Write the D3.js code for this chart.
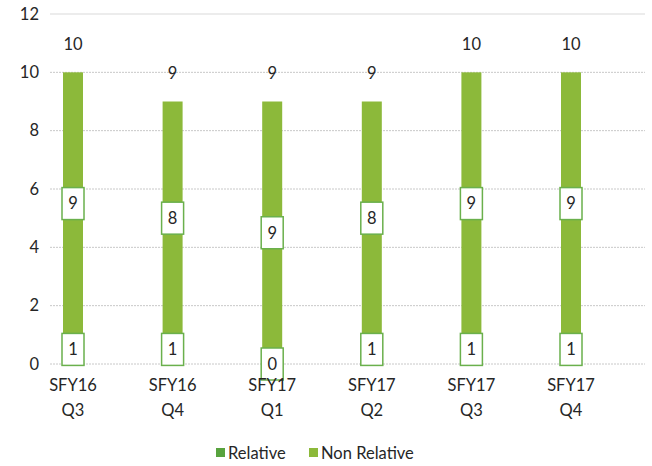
<!DOCTYPE html>
<html><head><meta charset="utf-8">
<script src="https://cdn.jsdelivr.net/npm/d3@7"></script>
<style>body{margin:0;background:#fff}svg{display:block}text{font-family:Lato,"Open Sans",sans-serif;fill:#262626}</style>
</head><body><svg id="c" width="652" height="466"></svg>
<script>
const categories = [["SFY16","Q3"],["SFY16","Q4"],["SFY17","Q1"],["SFY17","Q2"],["SFY17","Q3"],["SFY17","Q4"]];
const relative = [1,1,0,1,1,1];
const nonRelative = [9,8,9,8,9,9];
const totals = [10,9,9,9,10,10];
const yTicks = [0,2,4,6,8,10,12];
const seriesNames = ["Relative","Non Relative"];
const colors = {"Relative":"#58a33e","Non Relative":"#8cb93a"};

const svg = d3.select("#c");
const keys = categories.map(c=>c.join(" "));
const x = d3.scalePoint().domain(keys).range([73,571]);
const y = d3.scaleLinear().domain([0,12]).range([364,14]);
const bw = 20;

yTicks.forEach(t=>{
  svg.append("line").attr("x1",50).attr("x2",645).attr("y1",y(t)).attr("y2",y(t))
    .attr("stroke", t===12?"#d9d9d9":"#c8c8c8").attr("stroke-width",1)
    .attr("stroke-dasharray", t===12?null:"2,1");
});
const yAxis = d3.axisLeft(y).tickValues(yTicks).tickSize(0).tickPadding(0);
const ga = svg.append("g").attr("transform","translate(39,0)").call(yAxis);
ga.select(".domain").remove();
ga.selectAll("text").attr("font-size",16.5).attr("fill","#262626").style("font-family","Lato,'Open Sans',sans-serif");

const data = keys.map((k,i)=>({k, Relative:relative[i], "Non Relative":nonRelative[i]}));
const stack = d3.stack().keys(seriesNames)(data);

stack.forEach(s=>{
  svg.append("g").selectAll("rect").data(s).join("rect")
    .attr("x",d=>x(d.data.k)-bw/2).attr("width",bw)
    .attr("y",d=>y(d[1])).attr("height",d=>y(d[0])-y(d[1]))
    .attr("fill",colors[s.key]);
});
stack.forEach(s=>{
  const g = svg.append("g").selectAll("g").data(s).join("g")
    .attr("transform",d=>`translate(${x(d.data.k)},${y((d[0]+d[1])/2)})`);
  g.append("rect").attr("x",-11).attr("y",-16).attr("width",22).attr("height",32)
    .attr("fill","#fff").attr("stroke","#6ab04c").attr("stroke-width",1.5);
  g.append("text").attr("text-anchor","middle").attr("dy","0.35em").attr("font-size",16.5)
    .text(d=>d[1]-d[0]);
});
svg.append("g").selectAll("text").data(keys).join("text")
  .attr("x",d=>x(d)).attr("y",(d,i)=>y(totals[i])-28).attr("dy","0.35em")
  .attr("text-anchor","middle").attr("font-size",16.5).text((d,i)=>totals[i]);
const xl = svg.append("g").selectAll("text").data(categories).join("text")
  .attr("x",(d,i)=>x(keys[i])).attr("text-anchor","middle").attr("font-size",16.5);
xl.append("tspan").attr("x",(d,i)=>x(keys[i])).attr("y",391).text(d=>d[0]);
xl.append("tspan").attr("x",(d,i)=>x(keys[i])).attr("y",416).text(d=>d[1]);
const lg = svg.append("g").attr("transform","translate(216,453)");
const lx = [0,93];
seriesNames.forEach((n,i)=>{
  lg.append("rect").attr("x",lx[i]).attr("y",-5).attr("width",9).attr("height",9).attr("fill",colors[n]);
  lg.append("text").attr("x",lx[i]+12).attr("dy","0.35em").attr("font-size",16.5).text(n);
});
</script></body></html>
